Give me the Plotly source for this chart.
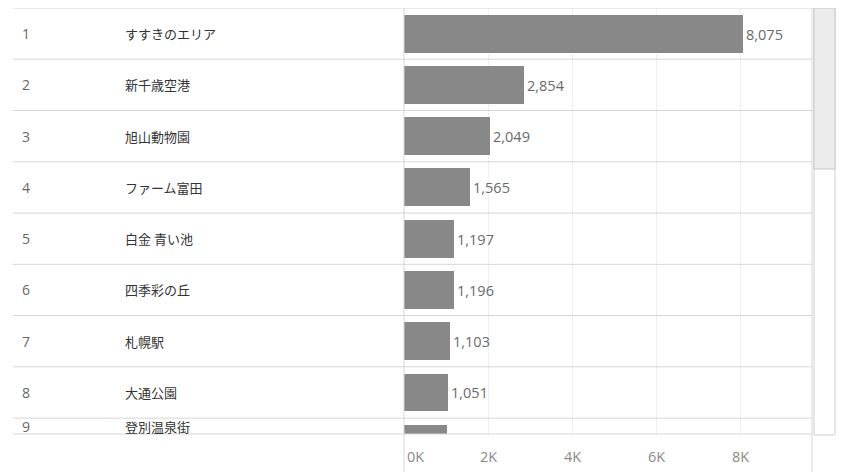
import plotly.graph_objects as go

# データ
ranks = [1, 2, 3, 4, 5, 6, 7, 8, 9]
names = ["すすきのエリア", "新千歳空港", "旭山動物園", "ファーム富田", "白金 青い池",
         "四季彩の丘", "札幌駅", "大通公園", "登別温泉街"]
values = [8075, 2854, 2049, 1565, 1197, 1196, 1103, 1051, 1030]
tick_vals = [0, 2000, 4000, 6000, 8000]
tick_text = ["0K", "2K", "4K", "6K", "8K"]

# ページの body に 8px の余白があるので、その分だけ図を小さくする
OFF = 8
W, H = 847 - OFF, 472 - OFF
L, R, T, B = 404 - OFF, 35, 0, 38
PW, PH = W - L - R, H - T - B


def px_x(p):  # 画面上の x ピクセル -> paper 座標
    return (p - OFF - L) / PW


def px_y(p):  # 画面上の y ピクセル -> paper 座標
    return (H - B - (p - OFF)) / PH


NUM_FONT = "Open Sans, Noto Sans, sans-serif"
JP_FONT = "Noto Sans CJK JP, sans-serif"
LINE = "#d6d6d6"

# 9行目はスクロールで切れているのでラベルなし
bar_labels = [f"{v:,}" for v in values[:-1]] + [""]

fig = go.Figure()
fig.add_trace(go.Bar(
    x=values, y=ranks, orientation="h",
    marker=dict(color="#888888", line=dict(width=0)),
    width=0.74,
    text=bar_labels, textposition="outside",
    textfont=dict(family=NUM_FONT, size=14.5, color="#6a6a6a"),
    cliponaxis=True, hoverinfo="skip",
))

shapes = []
# 行の区切り線
for r in ranks:
    shapes.append(dict(type="line", xref="paper", yref="y", x0=px_x(13), x1=1,
                       y0=r - 0.5, y1=r - 0.5, line=dict(color=LINE, width=1)))
# 下端の線
shapes.append(dict(type="line", xref="paper", yref="paper", x0=px_x(13), x1=1,
                   y0=0, y1=0, line=dict(color=LINE, width=1)))
# 縦の区切り線
for xv in [0, 1]:
    shapes.append(dict(type="line", xref="paper", yref="paper", x0=xv, x1=xv,
                       y0=px_y(472), y1=1, line=dict(color=LINE, width=1)))
# スクロールバー
shapes.append(dict(type="rect", xref="paper", yref="paper", x0=px_x(814), x1=px_x(835),
                   y0=px_y(435), y1=px_y(8), line=dict(color="#cfcfcf", width=1),
                   fillcolor="white"))
shapes.append(dict(type="rect", xref="paper", yref="paper", x0=px_x(814), x1=px_x(835),
                   y0=px_y(169), y1=px_y(8), line=dict(color="#c8c8c8", width=1),
                   fillcolor="#ececec"))
shapes.append(dict(type="line", xref="paper", yref="paper", x0=px_x(845), x1=px_x(845),
                   y0=px_y(472), y1=px_y(8), line=dict(color="#555555", width=2)))

annotations = []
for r, n in zip(ranks, names):
    yv = r if r < 9 else 8.66
    annotations.append(dict(text=str(r), x=px_x(20), y=yv, xref="paper", yref="y",
                            xanchor="left", yanchor="middle", showarrow=False,
                            font=dict(family=NUM_FONT, size=14, color="#666666")))
    annotations.append(dict(text=n, x=px_x(123), y=yv, xref="paper", yref="y",
                            xanchor="left", yanchor="middle", showarrow=False,
                            font=dict(family=JP_FONT, size=13, color="#333333")))
for v, t in zip(tick_vals, tick_text):
    annotations.append(dict(text=t, x=v, y=px_y(456), xref="x", yref="paper",
                            xanchor="left" if v == 0 else "center", yanchor="middle",
                            xshift=1 if v == 0 else 0, showarrow=False,
                            font=dict(family=NUM_FONT, size=14.5, color="#8a8a8a")))

fig.update_layout(
    width=W, height=H,
    margin=dict(l=L, r=R, t=T, b=B, pad=0),
    paper_bgcolor="white", plot_bgcolor="white",
    showlegend=False, bargap=0,
    shapes=shapes, annotations=annotations,
    xaxis=dict(range=[0, 9714], tickvals=tick_vals, showticklabels=False,
               showgrid=True, gridcolor="#efefef", gridwidth=1, zeroline=False,
               showline=False, ticks="", fixedrange=True),
    yaxis=dict(range=[8.81, 0.5], showticklabels=False, showgrid=False,
               zeroline=False, showline=False, ticks="", fixedrange=True),
)

fig.write_html("out.html")
